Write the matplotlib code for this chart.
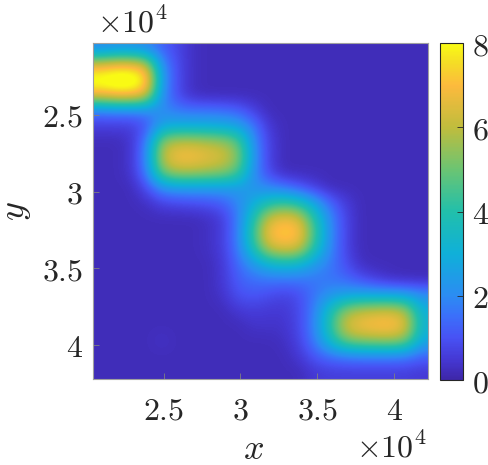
import matplotlib
matplotlib.use('agg')
import matplotlib.pyplot as plt
import numpy as np
from matplotlib.colors import LinearSegmentedColormap

plt.rcParams['mathtext.fontset'] = 'cm'
plt.rcParams['font.family'] = 'serif'

# axis limits (units of 1e4), data grid is cell-centred inside them
x_lim = [2.04, 4.22]
y_lim = [2.03, 4.22]

x_ticks = [2.5, 3.0, 3.5, 4.0]
x_tick_labels = ['2.5', '3', '3.5', '4']
y_ticks = [2.5, 3.0, 3.5, 4.0]
y_tick_labels = ['2.5', '3', '3.5', '4']
cbar_ticks = [0, 2, 4, 6, 8]

# 22 x 22 field (row 0 = top, y = 2.08e4)
bg = 0.2
field = [
    [2.0, 2.2, 2.2, 2.0, 1.3, 0.8, 0.3, bg, bg, bg, bg, bg, bg, bg, bg, bg, bg, bg, bg, bg, bg, bg],
    [6.6, 7.0, 7.0, 6.3, 2.1, 0.9, 0.3, bg, bg, bg, bg, bg, bg, bg, bg, bg, bg, bg, bg, bg, bg, bg],
    [8.6, 8.9, 8.9, 7.9, 2.4, 0.9, 0.3, bg, bg, bg, bg, bg, bg, bg, bg, bg, bg, bg, bg, bg, bg, bg],
    [6.6, 7.0, 7.0, 6.3, 2.1, 0.9, 0.3, bg, bg, bg, bg, bg, bg, bg, bg, bg, bg, bg, bg, bg, bg, bg],
    [1.6, 1.7, 1.7, 1.8, 2.0, 1.7, 1.6, 1.6, 1.5, 1.3, 0.7, bg, bg, bg, bg, bg, bg, bg, bg, bg, bg, bg],
    [0.6, 0.6, 0.6, 1.0, 2.7, 2.9, 2.9, 2.9, 2.8, 2.6, 1.7, 0.5, bg, bg, bg, bg, bg, bg, bg, bg, bg, bg],
    [bg, bg, 0.4, 1.7, 5.4, 6.0, 6.0, 5.8, 5.6, 4.8, 2.1, 0.7, bg, bg, bg, bg, bg, bg, bg, bg, bg, bg],
    [bg, bg, 0.4, 1.9, 6.0, 7.0, 7.0, 6.7, 6.4, 5.4, 2.3, 0.7, bg, bg, bg, bg, bg, bg, bg, bg, bg, bg],
    [bg, bg, 0.4, 1.7, 5.1, 5.8, 5.8, 5.6, 5.4, 4.6, 2.1, 0.8, bg, bg, bg, bg, bg, bg, bg, bg, bg, bg],
    [bg, bg, bg, 0.9, 2.1, 2.4, 2.4, 2.4, 2.4, 2.4, 2.2, 1.9, 1.6, 1.1, 0.6, bg, bg, bg, bg, bg, bg, bg],
    [bg, bg, bg, 0.3, 0.7, 0.8, 0.9, 1.0, 1.2, 1.9, 2.9, 3.8, 4.2, 3.8, 2.7, 1.4, 0.6, bg, bg, bg, bg, bg],
    [bg, bg, bg, bg, bg, bg, bg, 0.3, 0.6, 1.7, 3.8, 6.2, 6.8, 6.4, 4.0, 2.0, 0.8, bg, bg, bg, bg, bg],
    [bg, bg, bg, bg, bg, bg, bg, 0.3, 0.6, 1.8, 4.3, 7.0, 7.5, 7.2, 4.5, 2.1, 0.8, bg, bg, bg, bg, bg],
    [bg, bg, bg, bg, bg, bg, bg, 0.3, 0.6, 1.7, 3.8, 6.0, 6.5, 6.2, 3.9, 2.0, 0.8, bg, bg, bg, bg, bg],
    [bg, bg, bg, bg, bg, bg, bg, bg, 0.5, 1.4, 2.3, 3.1, 3.4, 3.2, 2.4, 1.7, 1.0, 0.3, bg, bg, bg, bg],
    [bg, bg, bg, bg, bg, bg, bg, bg, 0.5, 1.2, 1.5, 1.6, 1.6, 1.6, 1.6, 1.6, 1.4, 1.0, 0.6, 0.3, bg, bg],
    [bg, bg, bg, bg, bg, bg, bg, bg, 0.4, 1.0, 1.1, 0.9, 0.7, 0.9, 1.6, 2.2, 2.5, 2.6, 2.6, 2.6, 2.5, 2.1],
    [bg, bg, bg, bg, bg, bg, bg, bg, bg, 0.5, 0.6, 0.5, 0.5, 0.8, 1.8, 3.6, 5.3, 5.9, 6.1, 6.2, 5.7, 3.0],
    [bg, bg, bg, bg, bg, bg, bg, bg, bg, bg, 0.4, 0.4, 0.4, 0.8, 1.9, 4.0, 6.3, 7.0, 7.2, 7.3, 6.6, 3.2],
    [bg, bg, bg, bg, 0.35, bg, bg, bg, bg, bg, bg, bg, 0.3, 0.7, 1.7, 3.4, 5.0, 5.4, 5.5, 5.6, 5.2, 2.8],
    [bg, bg, bg, bg, bg, bg, bg, bg, bg, bg, bg, bg, bg, 0.5, 1.1, 1.5, 1.7, 1.8, 1.8, 1.8, 1.7, 1.3],
    [bg, bg, bg, bg, bg, bg, bg, bg, bg, bg, bg, bg, bg, bg, 0.5, 0.6, 0.6, 0.6, 0.6, 0.6, 0.6, 0.5],
]

# parula-like colormap
parula_pts = [
    (0.000, (0.2422, 0.1504, 0.6603)),
    (0.060, (0.2700, 0.2200, 0.8300)),
    (0.125, (0.2810, 0.3228, 0.9579)),
    (0.190, (0.2300, 0.4400, 0.9800)),
    (0.250, (0.1700, 0.5500, 0.9500)),
    (0.375, (0.0600, 0.6900, 0.8500)),
    (0.500, (0.1300, 0.7500, 0.6700)),
    (0.625, (0.4200, 0.7700, 0.4500)),
    (0.750, (0.7500, 0.7400, 0.2400)),
    (0.875, (0.9900, 0.7300, 0.2400)),
    (0.940, (0.9600, 0.8600, 0.1500)),
    (1.000, (0.9769, 0.9839, 0.0805)),
]
parula = LinearSegmentedColormap.from_list('parula', parula_pts)

fig = plt.figure(figsize=(4.89, 4.65), dpi=100)
ax = fig.add_axes([92.7 / 489, 1 - 379 / 465, 335.6 / 489, 336.3 / 465])
cax = fig.add_axes([440 / 489, 1 - 380 / 465, 23.3 / 489, 337 / 465])

im = ax.imshow(np.array(field), cmap=parula, vmin=0, vmax=8,
               extent=[x_lim[0] * 1e4, x_lim[1] * 1e4, y_lim[1] * 1e4, y_lim[0] * 1e4],
               interpolation='bicubic', aspect='auto', origin='upper')
ax.set_xlim(x_lim[0] * 1e4, x_lim[1] * 1e4)
ax.set_ylim(y_lim[1] * 1e4, y_lim[0] * 1e4)

ax.set_xticks([t * 1e4 for t in x_ticks])
ax.set_xticklabels(['$%s$' % s for s in x_tick_labels])
ax.set_yticks([t * 1e4 for t in y_ticks])
ax.set_yticklabels(['$%s$' % s for s in y_tick_labels])
ax.tick_params(axis='both', direction='in', length=4, width=0.6, color='#808080',
               labelsize=23, labelcolor='#262626', top=False, right=False)
ax.tick_params(axis='x', pad=12)
ax.tick_params(axis='y', pad=7)
for sp in ax.spines.values():
    sp.set_color('#a0a0a0')
    sp.set_linewidth(0.8)

ax.set_xlabel('$x$', fontsize=26, color='#262626', labelpad=4, x=0.478)
ax.set_ylabel('$y$', fontsize=26, color='#262626', labelpad=6)

fig.text(97 / 489, 1 - 32 / 465, r'$\times10^{4}$', fontsize=23, color='#262626',
         ha='left', va='baseline')
fig.text(427 / 489, 1 / 465, r'$\times10^{4}$', fontsize=23, color='#262626',
         ha='right', va='bottom')

cb = fig.colorbar(im, cax=cax, ticks=cbar_ticks)
cb.ax.set_yticklabels(['$%d$' % t for t in cbar_ticks])
cb.ax.tick_params(direction='in', length=4, width=0.6, color='#262626',
                  labelsize=23, labelcolor='#262626', pad=6)
cb.outline.set_edgecolor('#262626')
cb.outline.set_linewidth(0.8)

fig.savefig('out.png', dpi=100)
